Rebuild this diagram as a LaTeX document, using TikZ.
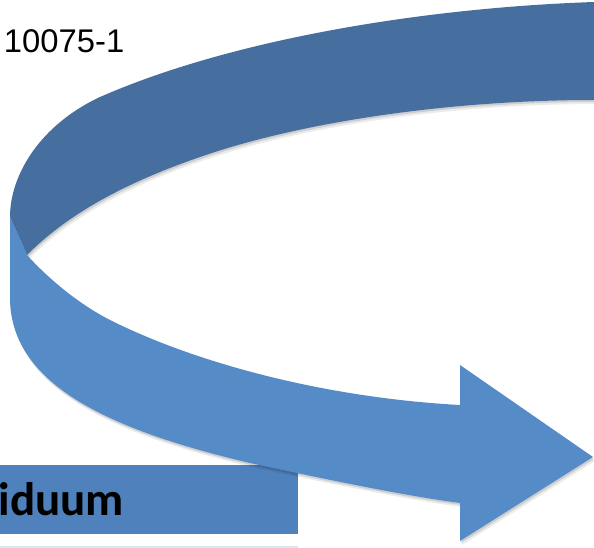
\documentclass[tikz,border=0pt]{standalone}
\usepackage{fontspec}
\newfontfamily\labelfont{Liberation Sans}
\newfontfamily\barfont{Carlito}
\definecolor{darkband}{RGB}{70,111,160}
\definecolor{lightband}{RGB}{85,140,200}
\definecolor{barblue}{RGB}{79,129,189}
\definecolor{rowblue}{RGB}{220,230,242}
\tikzset{
  darkfill/.style={fill=darkband},
  lightfill/.style={fill=lightband},
  shadowfill/.style={fill=black, opacity=#1},
}
\begin{document}
\begin{tikzpicture}[x=1pt,y=-1pt]
\useasboundingbox (0,0) rectangle (594,548);
\fill[white] (0,0) rectangle (594,548);
% table bar
\fill[barblue] (0,465) rectangle (298,534);
\fill[rowblue] (0,546) rectangle (298,548);
\node[anchor=base west, inner sep=0pt, font=\barfont\bfseries\fontsize{47}{50}\selectfont] (bartext) at (-1.5,515) {iduum};
% label
\node[anchor=base west, inner sep=0pt, font=\labelfont\fontsize{32.8}{36}\selectfont] (label) at (3.7,53) {10075-1};
% shapes defined once
\def\darkpath{(600,1.8) -- (594,2) .. controls (420,8) and (230,40) .. (100,97) .. controls (40,125) and (10,175) .. (10,217) -- (27,255) .. controls (60,222) and (110,188) .. (200,157) .. controls (300,122) and (450,100) .. (594,100) -- (600,100) -- cycle}
\def\lightpath{(10,217) -- (10,300) .. controls (12,385) and (110,430) .. (250,463) .. controls (320,478) and (400,495) .. (460,503) -- (460,541) -- (593,457) -- (460,365) -- (460,405) .. controls (330,398) and (200,365) .. (110,320) .. controls (75,302) and (45,275) .. (27,255) -- cycle}
% soft shadows
\begin{scope}[shift={(2,4)}]
  \fill[shadowfill=0.08] \darkpath;
  \fill[shadowfill=0.08] \lightpath;
\end{scope}
\begin{scope}[shift={(1,2)}]
  \fill[shadowfill=0.12] \darkpath;
  \fill[shadowfill=0.12] \lightpath;
\end{scope}
% ribbon
\fill[darkfill] \darkpath;
\fill[lightfill] \lightpath;
\end{tikzpicture}
\end{document}
